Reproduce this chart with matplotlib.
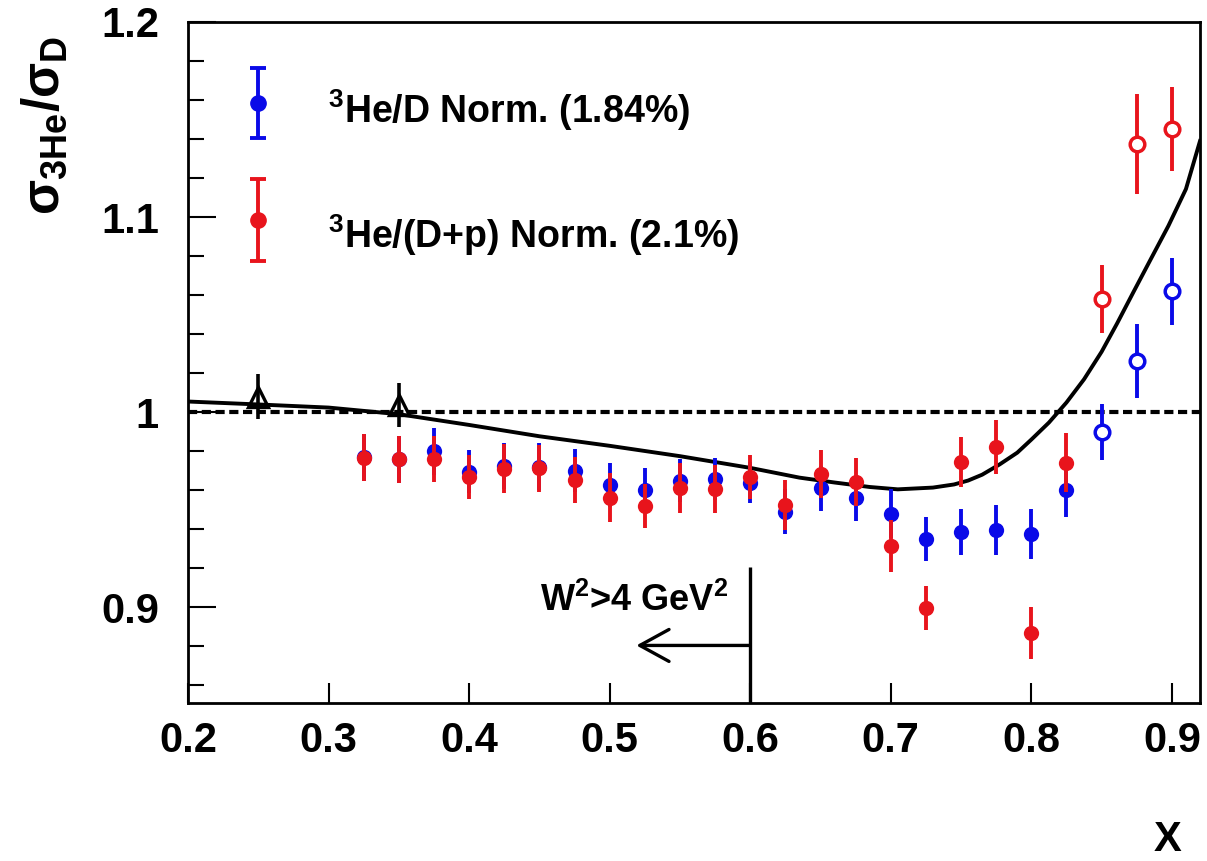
import matplotlib
matplotlib.use("Agg")
import matplotlib.pyplot as plt
from matplotlib.ticker import MultipleLocator, FuncFormatter

plt.rcParams['font.family'] = ['Liberation Sans', 'DejaVu Sans']
plt.rcParams['font.weight'] = 'bold'
plt.rcParams['mathtext.fontset'] = 'custom'
plt.rcParams['mathtext.rm'] = 'Liberation Sans:bold'
plt.rcParams['mathtext.it'] = 'Liberation Sans:bold'
plt.rcParams['mathtext.bf'] = 'Liberation Sans:bold'
plt.rcParams['mathtext.sf'] = 'Liberation Sans:bold'
plt.rcParams['mathtext.default'] = 'rm'

# ---------------- data ----------------
x_filled = [0.325, 0.35, 0.375, 0.40, 0.425, 0.45, 0.475, 0.50, 0.525, 0.55, 0.575, 0.60,
            0.625, 0.65, 0.675, 0.70, 0.725, 0.75, 0.775, 0.80, 0.825]
blue_filled = [0.977, 0.976, 0.980, 0.9695, 0.9725, 0.972, 0.970, 0.9627, 0.960, 0.9648, 0.9656, 0.964,
               0.949, 0.961, 0.956, 0.948, 0.935, 0.9388, 0.9397, 0.9378, 0.960]
blue_filled_err = [0.012, 0.012, 0.012, 0.011, 0.012, 0.012, 0.011, 0.0115, 0.0113, 0.011, 0.0108, 0.0106,
                   0.0116, 0.0116, 0.0118, 0.0125, 0.0114, 0.0118, 0.0127, 0.0128, 0.0137]
red_filled = [0.9768, 0.9759, 0.9762, 0.967, 0.9711, 0.9713, 0.9651, 0.9562, 0.9521, 0.9614, 0.9605, 0.9668,
              0.9523, 0.9684, 0.9643, 0.9315, 0.8998, 0.9745, 0.9822, 0.8867, 0.9742]
red_filled_err = [0.0122, 0.012, 0.0118, 0.0113, 0.0124, 0.012, 0.0118, 0.0125, 0.0113, 0.0128, 0.0123, 0.0113,
                  0.0128, 0.0123, 0.0124, 0.0134, 0.0114, 0.013, 0.014, 0.0133, 0.015]

x_open = [0.85, 0.875, 0.90]
blue_open = [0.9899, 1.0263, 1.0619]
blue_open_err = [0.0145, 0.019, 0.017]
red_open = [1.058, 1.1374, 1.1451]
red_open_err = [0.0175, 0.0256, 0.0215]

x_tri = [0.25, 0.35]
tri_val = [1.0079, 1.0038]
tri_err = [0.0115, 0.0113]

curve_x = [0.20, 0.25, 0.30, 0.35, 0.40, 0.45, 0.50, 0.55, 0.60, 0.635, 0.66, 0.685, 0.705,
           0.73, 0.745, 0.755, 0.765, 0.7775, 0.79, 0.80, 0.8125, 0.825, 0.8375, 0.85, 0.861,
           0.8725, 0.885, 0.8975, 0.91, 0.92]
curve_y = [1.0055, 1.004, 1.0024, 0.999, 0.9935, 0.9877, 0.9828, 0.9775, 0.9715, 0.9665, 0.964,
           0.9617, 0.9605, 0.9614, 0.9630, 0.9650, 0.968, 0.9733, 0.9793, 0.986, 0.9947, 1.005,
           1.0169, 1.031, 1.0455, 1.0614, 1.0785, 1.0955, 1.1144, 1.139]

legend_labels = [r'$^{3}$He/D Norm. (1.84%)', r'$^{3}$He/(D+p) Norm. (2.1%)']
x_ticks = [0.2, 0.3, 0.4, 0.5, 0.6, 0.7, 0.8, 0.9]
y_ticks = [0.9, 1.0, 1.1, 1.2]

BLUE = '#0a0ae8'
RED = '#e8141c'

# ---------------- figure ----------------
fig = plt.figure(figsize=(12.07, 8.61), dpi=100)
ax = fig.add_axes([188 / 1207, 1 - 703 / 861, (1200 - 188) / 1207, (703 - 22) / 861])
ax.set_xlim(0.2, 0.92)
ax.set_ylim(0.851, 1.2)

# reference lines
ax.axhline(1.0, color='black', lw=3.0, ls=(0, (2.2, 1.1)), zorder=1)
ax.plot(curve_x, curve_y, color='black', lw=2.8, zorder=2, solid_joinstyle='round')

# data
ax.errorbar(x_tri, tri_val, yerr=tri_err, fmt='^', ms=14.5, mfc='none', mec='black', mew=2.4,
            ecolor='black', elinewidth=2.6, capsize=0, zorder=3)
ax.errorbar(x_filled, blue_filled, yerr=blue_filled_err, fmt='o', color=BLUE, ms=11, mew=0,
            elinewidth=2.8, capsize=0, zorder=4)
ax.errorbar(x_open, blue_open, yerr=blue_open_err, fmt='o', color=BLUE, ms=10.5, mfc='white',
            mec=BLUE, mew=2.5, elinewidth=2.8, capsize=0, zorder=4)
ax.errorbar(x_filled, red_filled, yerr=red_filled_err, fmt='o', color=RED, ms=11, mew=0,
            elinewidth=2.8, capsize=0, zorder=5)
ax.errorbar(x_open, red_open, yerr=red_open_err, fmt='o', color=RED, ms=10.5, mfc='white',
            mec=RED, mew=2.5, elinewidth=2.8, capsize=0, zorder=5)

# legend (drawn manually, ROOT style)
for color, ypos, yerr, label, ytxt in [(BLUE, 1.1585, 0.0181, legend_labels[0], 1.148),
                                       (RED, 1.0985, 0.0210, legend_labels[1], 1.0841)]:
    ax.errorbar([0.25], [ypos], yerr=[yerr], fmt='o', color=color, ms=11, mfc=color, mec=color,
                elinewidth=2.8, capsize=6, capthick=2.8, zorder=6)
    ax.text(0.2996, ytxt, label, fontsize=27, fontweight='bold', ha='left', va='baseline')

# W^2 cut annotation
ax.plot([0.6, 0.6], [0.851, 0.9205], color='black', lw=2.4, zorder=2, solid_capstyle='butt')
ax.annotate('', xy=(0.519, 0.8805), xytext=(0.6, 0.8805),
            arrowprops=dict(arrowstyle='->,head_length=21,head_width=11.5', mutation_scale=1,
                            lw=2.4, color='black', shrinkA=0, shrinkB=0))
ax.text(0.5177, 0.898, r'W$^{2}$>4 GeV$^{2}$', fontsize=26, fontweight='bold', ha='center', va='baseline')

# axes styling
for sp in ax.spines.values():
    sp.set_linewidth(2.0)
ax.set_xticks(x_ticks)
ax.set_yticks(y_ticks)
ax.yaxis.set_minor_locator(MultipleLocator(0.02))
fmt = FuncFormatter(lambda v, p: '%g' % round(v, 3))
ax.xaxis.set_major_formatter(fmt)
ax.yaxis.set_major_formatter(fmt)
ax.tick_params(axis='x', which='major', direction='in', length=14.4, width=1.5, pad=13,
               labelsize=30, top=False)
ax.tick_params(axis='y', which='major', direction='in', length=20, width=1.5, pad=21,
               labelsize=30, right=False)
ax.tick_params(axis='y', which='minor', direction='in', length=11.5, width=1.5, right=False)
for lab in ax.get_xticklabels() + ax.get_yticklabels():
    lab.set_fontweight('bold')

# axis titles
fig.text(45 / 1207, 1 - 125 / 861, r'$\sigma_{3He}/\sigma_{D}$', rotation=90, fontsize=37,
         ha='center', va='center')
fig.text(1168 / 1207, 1 - 840 / 861, 'X', fontsize=30, fontweight='bold', ha='center', va='center')

fig.savefig('out.png', dpi=100)
